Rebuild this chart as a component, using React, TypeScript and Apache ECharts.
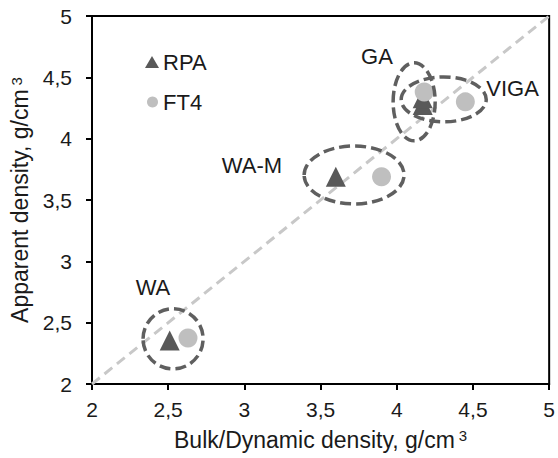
import React, { useEffect, useRef } from "react";
import * as echarts from "echarts";

const seriesNames = ["RPA", "FT4"];
const groupNames = ["WA", "WA-M", "GA", "VIGA"];
const rpaBulk = [2.51, 3.6, 4.17, 4.17];
const rpaApparent = [2.355, 3.69, 4.275, 4.33];
const ft4Bulk = [2.63, 3.9, 4.18, 4.45];
const ft4Apparent = [2.375, 3.69, 4.38, 4.3];
// group outline ellipses: centre (x, y) and radii (x, y), data units
const ellipseCx = [2.532, 3.72, 4.114, 4.308];
const ellipseCy = [2.368, 3.704, 4.3, 4.32];
const ellipseRx = [0.197, 0.328, 0.138, 0.279];
const ellipseRy = [0.245, 0.236, 0.318, 0.183];
// group label anchors, data units
const labelX = [2.4, 3.05, 3.87, 4.76];
const labelY = [2.79, 3.78, 4.67, 4.41];
const identityLine = [
  [2, 2],
  [5, 5],
];
const axisMin = 2;
const axisMax = 5;
const axisStep = 0.5;

const FONT = "'Liberation Sans', Arial, sans-serif";
const TXT = "#1a1a1a";

export default function App() {
  const ref = useRef<HTMLDivElement>(null);
  useEffect(() => {
    if (!ref.current) return;
    const chart = echarts.init(ref.current, null, { renderer: "svg" });
    const fmt = (v: number) => String(v).replace(".", ",");
    const axisCommon = {
      type: "value",
      min: axisMin,
      max: axisMax,
      interval: axisStep,
      nameLocation: "middle",
      axisLine: { show: true, lineStyle: { color: "#000", width: 2 } },
      axisTick: { show: true, inside: false, length: 6, lineStyle: { color: "#000", width: 2 } },
      splitLine: { show: false },
      axisLabel: { color: TXT, fontSize: 21, fontFamily: FONT, formatter: fmt },
    };
    const nameRich = {
      a: { fontSize: 23, fontFamily: FONT, color: TXT },
      s: { fontSize: 15, fontFamily: FONT, color: TXT, verticalAlign: "top", padding: [0, 0, 0, 4] },
    };
    chart.setOption({
      animation: false,
      grid: {
        left: 92,
        right: 8,
        top: 16,
        bottom: 74,
        show: true,
        borderColor: "#000",
        borderWidth: 2,
        backgroundColor: "transparent",
      },
      legend: [
        {
          data: [{ name: seriesNames[0], icon: "triangle" }],
          left: 140,
          top: 46,
          padding: 5,
          itemWidth: 14,
          itemHeight: 12,
          textStyle: { fontSize: 22, fontFamily: FONT, color: TXT, padding: [0, 0, 0, -1] },
        },
        {
          data: [{ name: seriesNames[1], icon: "circle" }],
          left: 142,
          top: 86,
          padding: 5,
          itemWidth: 11,
          itemHeight: 11,
          textStyle: { fontSize: 22, fontFamily: FONT, color: TXT },
        },
      ],
      xAxis: {
        ...axisCommon,
        name: "{a|Bulk/Dynamic density, g/cm}{s|3}",
        nameGap: 44,
        nameTextStyle: { rich: nameRich },
        axisLabel: { ...axisCommon.axisLabel, margin: 15 },
      },
      yAxis: {
        ...axisCommon,
        name: "{a|Apparent density, g/cm}{s|3}",
        nameGap: 57,
        nameTextStyle: { rich: nameRich },
        axisLabel: { ...axisCommon.axisLabel, margin: 20 },
      },
      series: [
        {
          type: "line",
          data: identityLine,
          symbol: "none",
          silent: true,
          z: 1,
          lineStyle: { color: "#c8c8c8", width: 3, type: [10, 6] },
        },
        {
          name: seriesNames[0],
          type: "scatter",
          symbol: "triangle",
          symbolSize: 20,
          z: 3,
          itemStyle: { color: "#595959", opacity: 1 },
          data: rpaBulk.map((x, i) => [x, rpaApparent[i]]),
        },
        {
          name: seriesNames[1],
          type: "scatter",
          symbol: "circle",
          symbolSize: 19,
          z: 4,
          itemStyle: { color: "#bfbfbf", opacity: 1 },
          data: ft4Bulk.map((x, i) => [x, ft4Apparent[i]]),
        },
        {
          type: "custom",
          z: 5,
          silent: true,
          data: ellipseCx.map((cx, i) => [cx, ellipseCy[i], ellipseRx[i], ellipseRy[i]]),
          renderItem: (params: any, api: any) => {
            const c = api.coord([api.value(0), api.value(1)]);
            const s = api.size([api.value(2), api.value(3)]);
            return {
              type: "ellipse",
              shape: { cx: c[0], cy: c[1], rx: s[0], ry: s[1] },
              style: { fill: "none", stroke: "#5f5f5f", lineWidth: 3.5, lineDash: [11, 5] },
            };
          },
        },
        {
          type: "custom",
          z: 6,
          silent: true,
          data: groupNames.map((n, i) => ({ name: n, value: [labelX[i], labelY[i]] })),
          renderItem: (params: any, api: any) => {
            const c = api.coord([api.value(0), api.value(1)]);
            return {
              type: "text",
              x: c[0],
              y: c[1],
              style: {
                text: groupNames[params.dataIndex],
                fontSize: 22,
                fontFamily: FONT,
                fill: TXT,
                align: "center",
                verticalAlign: "middle",
              },
            };
          },
        },
      ],
    });
    return () => chart.dispose();
  }, []);
  return (
    <div
      ref={ref}
      style={{ position: "fixed", left: 0, top: 0, width: 558, height: 458, background: "#fff" }}
    />
  );
}
